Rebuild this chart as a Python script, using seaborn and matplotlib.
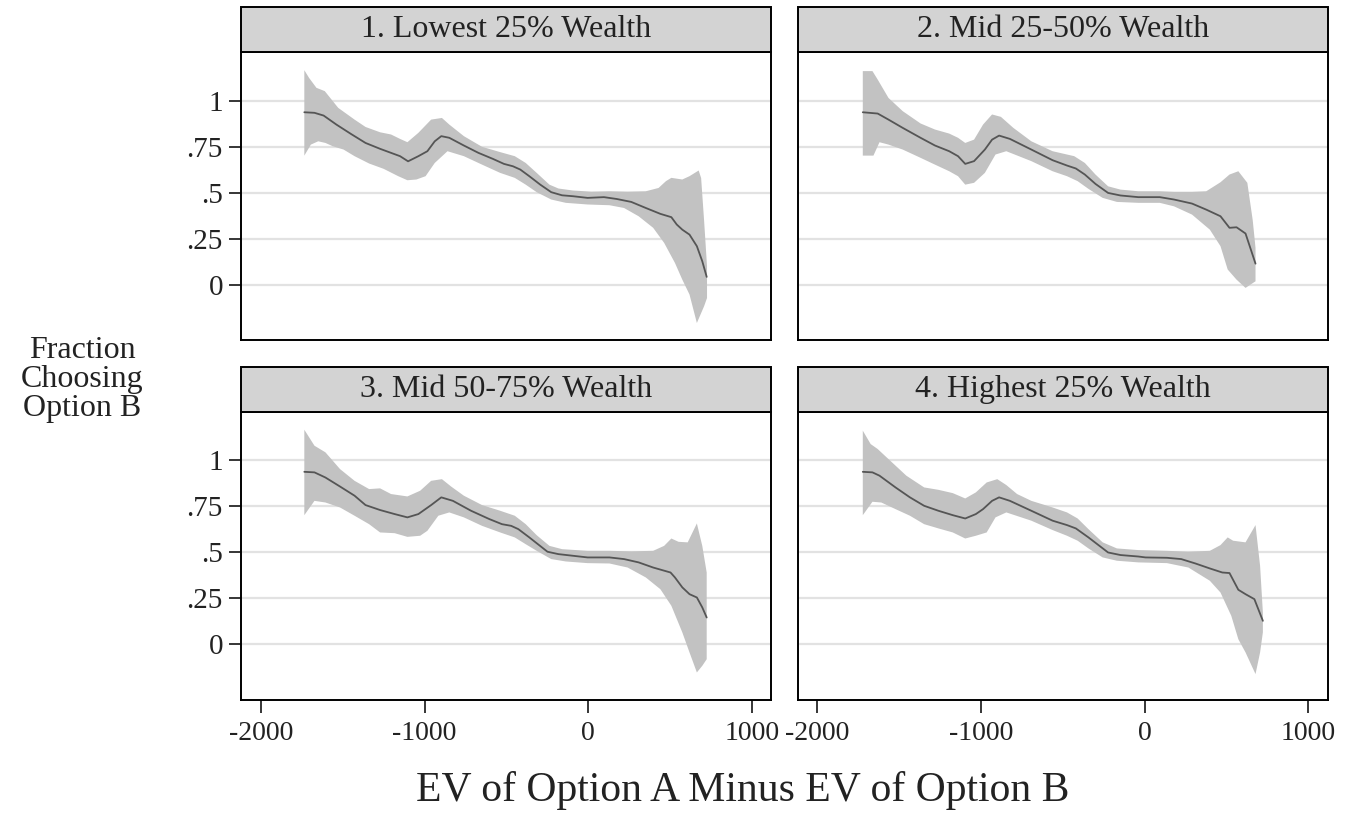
import numpy as np
import pandas as pd
import matplotlib
matplotlib.use("Agg")
import matplotlib.pyplot as plt
import matplotlib.patches as mpatches
import seaborn as sns

# ------------------ DATA ------------------
panels = ["1. Lowest 25% Wealth", "2. Mid 25-50% Wealth",
          "3. Mid 50-75% Wealth", "4. Highest 25% Wealth"]

x_ticks = [-2000, -1000, 0, 1000]
x_ticklabels = ["-2000", "-1000", "0", "1000"]
y_ticks = [0, 0.25, 0.5, 0.75, 1]
y_ticklabels = ["0", ".25", ".5", ".75", "1"]

# panel 1
p1_mid_x = [-1735, -1673, -1617, -1539, -1450, -1361, -1272, -1205, -1150, -1101, -1038, -983, -938, -898, -849, -760, -671, -582, -515, -460, -415, -360, -293, -226, -160, -93, -4, 96, 174, 263, 352, 441, 508, 541, 575, 619, 664, 697, 724]
p1_mid_y = [0.938, 0.935, 0.92, 0.871, 0.82, 0.771, 0.739, 0.717, 0.699, 0.671, 0.699, 0.726, 0.78, 0.808, 0.799, 0.757, 0.717, 0.684, 0.657, 0.644, 0.626, 0.59, 0.544, 0.503, 0.486, 0.481, 0.472, 0.476, 0.466, 0.45, 0.417, 0.385, 0.367, 0.327, 0.299, 0.272, 0.209, 0.127, 0.042]
p1_hi_x = [-1735, -1706, -1661, -1610, -1528, -1428, -1361, -1272, -1205, -1150, -1105, -1038, -960, -894, -849, -760, -649, -538, -449, -382, -315, -237, -182, -93, 18, 130, 241, 352, 430, 475, 508, 575, 619, 675, 690, 708, 726]
p1_hi_y = [1.167, 1.125, 1.071, 1.053, 0.962, 0.898, 0.858, 0.829, 0.817, 0.793, 0.775, 0.826, 0.898, 0.907, 0.871, 0.808, 0.75, 0.721, 0.699, 0.662, 0.608, 0.544, 0.523, 0.512, 0.506, 0.508, 0.506, 0.508, 0.526, 0.563, 0.581, 0.572, 0.59, 0.621, 0.58, 0.35, 0.10]
p1_lo_x = [-1735, -1695, -1650, -1606, -1561, -1495, -1428, -1339, -1250, -1161, -1105, -1050, -994, -938, -860, -760, -649, -538, -449, -382, -315, -226, -137, -4, 130, 219, 308, 397, 464, 530, 575, 619, 664, 708, 726]
p1_lo_y = [0.702, 0.762, 0.78, 0.771, 0.753, 0.735, 0.699, 0.659, 0.63, 0.59, 0.568, 0.572, 0.59, 0.662, 0.726, 0.699, 0.653, 0.608, 0.581, 0.544, 0.503, 0.463, 0.445, 0.436, 0.432, 0.417, 0.372, 0.309, 0.227, 0.118, 0.027, -0.054, -0.209, -0.118, -0.073]

# panel 2
p2_mid_x = [-1723, -1632, -1566, -1479, -1370, -1282, -1195, -1141, -1097, -1043, -977, -933, -890, -824, -693, -563, -475, -421, -366, -301, -224, -148, -39, 92, 179, 289, 376, 463, 518, 561, 616, 677]
p2_mid_y = [0.938, 0.931, 0.898, 0.853, 0.799, 0.757, 0.726, 0.699, 0.657, 0.672, 0.735, 0.789, 0.811, 0.793, 0.735, 0.677, 0.648, 0.632, 0.599, 0.548, 0.499, 0.485, 0.476, 0.476, 0.463, 0.441, 0.408, 0.372, 0.309, 0.312, 0.278, 0.114]
p2_hi_x = [-1723, -1664, -1632, -1566, -1479, -1370, -1282, -1195, -1141, -1097, -1043, -988, -933, -879, -803, -693, -563, -431, -366, -301, -224, -148, -39, 92, 179, 289, 376, 463, 518, 572, 627, 660, 677]
p2_hi_y = [1.162, 1.162, 1.116, 1.016, 0.944, 0.877, 0.844, 0.822, 0.799, 0.771, 0.789, 0.871, 0.926, 0.913, 0.853, 0.78, 0.726, 0.699, 0.662, 0.599, 0.535, 0.517, 0.508, 0.508, 0.505, 0.505, 0.508, 0.557, 0.599, 0.617, 0.554, 0.35, 0.2]
p2_lo_x = [-1723, -1658, -1621, -1566, -1479, -1370, -1282, -1195, -1141, -1097, -1043, -977, -912, -846, -693, -563, -475, -410, -344, -257, -170, -39, 92, 179, 289, 398, 463, 507, 561, 616, 677]
p2_lo_y = [0.702, 0.702, 0.775, 0.762, 0.735, 0.69, 0.653, 0.617, 0.59, 0.544, 0.554, 0.608, 0.708, 0.726, 0.672, 0.617, 0.59, 0.563, 0.521, 0.472, 0.45, 0.445, 0.445, 0.426, 0.381, 0.299, 0.209, 0.082, 0.027, -0.018, 0.018]

# panel 3
p3_mid_x = [-1735, -1673, -1606, -1517, -1428, -1361, -1272, -1183, -1105, -1038, -960, -898, -827, -716, -605, -527, -471, -427, -360, -249, -182, -93, -4, 130, 219, 308, 397, 503, 530, 575, 619, 664, 697, 724]
p3_mid_y = [0.938, 0.935, 0.907, 0.858, 0.808, 0.757, 0.73, 0.708, 0.69, 0.708, 0.757, 0.799, 0.78, 0.726, 0.681, 0.653, 0.644, 0.626, 0.581, 0.503, 0.49, 0.481, 0.472, 0.472, 0.463, 0.445, 0.417, 0.39, 0.363, 0.309, 0.272, 0.254, 0.2, 0.145]
p3_hi_x = [-1735, -1673, -1606, -1517, -1428, -1339, -1272, -1205, -1105, -1027, -960, -894, -838, -760, -649, -538, -449, -382, -315, -237, -160, -4, 130, 263, 397, 464, 508, 552, 608, 664, 697, 724]
p3_hi_y = [1.167, 1.08, 1.044, 0.953, 0.889, 0.844, 0.848, 0.817, 0.804, 0.835, 0.889, 0.898, 0.858, 0.808, 0.757, 0.726, 0.699, 0.653, 0.593, 0.535, 0.517, 0.508, 0.508, 0.505, 0.508, 0.535, 0.575, 0.557, 0.554, 0.657, 0.535, 0.39]
p3_lo_x = [-1735, -1673, -1606, -1517, -1428, -1339, -1272, -1183, -1105, -1027, -983, -916, -849, -760, -649, -538, -449, -382, -315, -226, -137, -4, 130, 241, 352, 441, 508, 575, 619, 664, 697, 724]
p3_lo_y = [0.702, 0.78, 0.771, 0.744, 0.699, 0.653, 0.608, 0.604, 0.584, 0.59, 0.617, 0.699, 0.717, 0.69, 0.644, 0.608, 0.581, 0.544, 0.508, 0.463, 0.45, 0.441, 0.439, 0.417, 0.363, 0.299, 0.209, 0.064, -0.045, -0.154, -0.118, -0.082]

# panel 4
p4_mid_x = [-1723, -1664, -1621, -1523, -1435, -1348, -1261, -1173, -1097, -1032, -988, -933, -890, -824, -693, -563, -475, -421, -344, -224, -148, -39, 5, 136, 223, 310, 398, 474, 518, 572, 616, 670, 722]
p4_mid_y = [0.938, 0.935, 0.917, 0.853, 0.799, 0.753, 0.726, 0.702, 0.684, 0.708, 0.735, 0.78, 0.799, 0.78, 0.726, 0.672, 0.648, 0.63, 0.581, 0.499, 0.485, 0.477, 0.472, 0.47, 0.463, 0.439, 0.412, 0.39, 0.387, 0.296, 0.272, 0.245, 0.127]
p4_hi_x = [-1723, -1675, -1632, -1544, -1457, -1348, -1261, -1173, -1097, -1032, -966, -901, -846, -780, -693, -563, -475, -410, -344, -257, -170, -39, 136, 267, 398, 463, 507, 540, 616, 677, 705, 722]
p4_hi_y = [1.162, 1.089, 1.062, 0.989, 0.917, 0.853, 0.84, 0.822, 0.793, 0.826, 0.88, 0.898, 0.866, 0.817, 0.78, 0.744, 0.717, 0.684, 0.626, 0.554, 0.521, 0.512, 0.508, 0.503, 0.508, 0.539, 0.581, 0.563, 0.554, 0.648, 0.426, 0.172]
p4_lo_x = [-1723, -1664, -1610, -1523, -1435, -1348, -1261, -1173, -1097, -1032, -966, -912, -846, -693, -563, -475, -410, -344, -257, -170, -39, 136, 267, 398, 463, 529, 572, 616, 677, 705, 722]
p4_lo_y = [0.702, 0.775, 0.771, 0.735, 0.699, 0.653, 0.63, 0.608, 0.575, 0.59, 0.608, 0.69, 0.717, 0.672, 0.621, 0.59, 0.563, 0.521, 0.472, 0.454, 0.445, 0.441, 0.417, 0.345, 0.281, 0.154, 0.027, -0.045, -0.163, -0.045, 0.064]

mids = [(p1_mid_x, p1_mid_y), (p2_mid_x, p2_mid_y), (p3_mid_x, p3_mid_y), (p4_mid_x, p4_mid_y)]
bands = [(p1_hi_x, p1_hi_y, p1_lo_x, p1_lo_y), (p2_hi_x, p2_hi_y, p2_lo_x, p2_lo_y),
         (p3_hi_x, p3_hi_y, p3_lo_x, p3_lo_y), (p4_hi_x, p4_hi_y, p4_lo_x, p4_lo_y)]

df = pd.concat([pd.DataFrame({"panel": name, "ev": mx, "frac": my})
                for name, (mx, my) in zip(panels, mids)], ignore_index=True)

# ------------------ STYLE ------------------
sns.set_style("white")
plt.rcParams["font.family"] = ["Liberation Serif", "DejaVu Serif"]
plt.rcParams["axes.unicode_minus"] = False

LINE = "#555555"
BAND = "#c2c2c2"
GRID = "#e2e2e2"
HEAD = "#d3d3d3"
TXT = "#222222"

# ------------------ PLOT ------------------
g = sns.FacetGrid(df, col="panel", col_wrap=2, col_order=panels,
                  sharex=True, sharey=True, height=3, aspect=1.8)
g.map_dataframe(sns.lineplot, x="ev", y="frac", color=LINE, linewidth=1.3,
                estimator=None, zorder=3)
g.set_axis_labels("", "")
g.set_titles("")

for i, (ax, name) in enumerate(zip(g.axes.flat, panels)):
    hx, hy, lx, ly = bands[i]
    ax.fill(list(hx) + list(lx)[::-1], list(hy) + list(ly)[::-1],
            color=BAND, lw=0, zorder=2)

    ax.set_xlim(-2122, 1120)
    ax.set_ylim(-0.304, 1.266)
    ax.set_axisbelow(True)
    ax.yaxis.grid(True, color=GRID, lw=1.6)
    ax.xaxis.grid(False)

    for sp in ax.spines.values():
        sp.set_visible(True)
        sp.set_color("black")
        sp.set_linewidth(1.4)

    ax.set_yticks(y_ticks, y_ticklabels)
    ax.set_xticks(x_ticks, x_ticklabels)
    left = i % 2 == 0
    bottom = i >= 2
    ax.tick_params(axis="y", left=left, labelleft=left, length=9, width=1.3,
                   pad=4, labelsize=21, labelcolor=TXT)
    ax.tick_params(axis="x", bottom=bottom, labelbottom=bottom, length=9,
                   width=1.3, pad=6, labelsize=20, labelcolor=TXT)

    # header strip
    hh = 45 / 289
    ax.add_patch(mpatches.Rectangle((0, 1), 1, hh, transform=ax.transAxes,
                                    facecolor=HEAD, edgecolor="black", lw=1.4,
                                    clip_on=False, zorder=5))
    ax.text(0.5, 1 + hh / 2, name, transform=ax.transAxes, ha="center",
            va="center", fontsize=23, color=TXT, zorder=6)

fig = g.figure
fig.set_size_inches(13.47, 8.17)
fig.subplots_adjust(left=241 / 1347, right=1328 / 1347,
                    top=1 - 52 / 817, bottom=1 - 700 / 817,
                    wspace=26 / 530, hspace=71 / 288)

fig.text(82 / 1347, 1 - 380 / 817, "Fraction\nChoosing\nOption B",
         ha="center", va="center", fontsize=23, color=TXT, linespacing=1.0)
fig.text(743 / 1347, 1 - 790 / 817, "EV of Option A Minus EV of Option B",
         ha="center", va="center", fontsize=30, color=TXT)

fig.savefig("out.png", dpi=100)
